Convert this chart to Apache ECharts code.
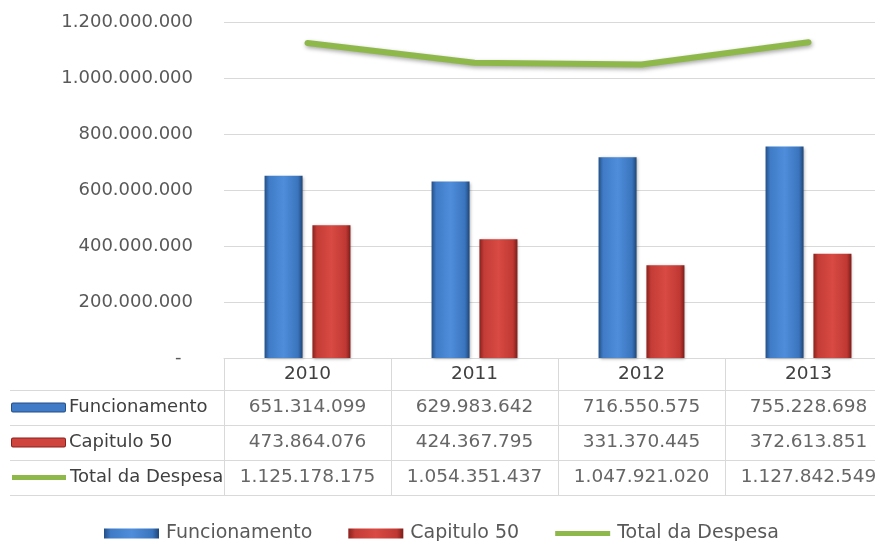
<!DOCTYPE html>
<html>
<head>
<meta charset="utf-8">
<script src="https://cdn.jsdelivr.net/npm/echarts@6/dist/echarts.min.js"></script>
<style>
html,body{margin:0;padding:0;background:#fff;overflow:hidden;}
#chart{width:892px;height:541px;}
</style>
</head>
<body>
<div id="chart"></div>
<script>
const categories = ['2010', '2011', '2012', '2013'];
const seriesNames = ['Funcionamento', 'Capitulo 50', 'Total da Despesa'];
const funcionamento = [651314099, 629983642, 716550575, 755228698];
const capitulo50 = [473864076, 424367795, 331370445, 372613851];
const totalDespesa = [1125178175, 1054351437, 1047921020, 1127842549];
const yMin = 0, yMax = 1200000000, yStep = 200000000;

function fmt(n) {
  return String(Math.round(n)).replace(/\B(?=(\d{3})+(?!\d))/g, '.');
}

const FONT = 'DejaVu Sans';
const allValues = [funcionamento, capitulo50, totalDespesa];
const tableData = [];
seriesNames.forEach(function (name, i) {
  categories.forEach(function (c, j) {
    tableData.push([c, name, allValues[i][j]]);
  });
});

const blueGrad = new echarts.graphic.LinearGradient(0, 0, 1, 0, [
  {offset: 0, color: '#244f86'}, {offset: 0.12, color: '#3f7bc6'},
  {offset: 0.5, color: '#4f8ddb'}, {offset: 0.88, color: '#3a74bd'},
  {offset: 1, color: '#1f4677'}]);
const redGrad = new echarts.graphic.LinearGradient(0, 0, 1, 0, [
  {offset: 0, color: '#8a211d'}, {offset: 0.12, color: '#c43c36'},
  {offset: 0.5, color: '#d84a43'}, {offset: 0.88, color: '#c03833'},
  {offset: 1, color: '#7c1d19'}]);
const green = '#8fb84a';
const gridColor = '#d9d9d9';

const chart = echarts.init(document.getElementById('chart'), null, {renderer: 'canvas'});
chart.setOption({
  backgroundColor: '#ffffff',
  animation: false,
  grid: [
    {left: 224, top: 22, right: 0, height: 336},
    {left: 224, top: 390, right: 0, height: 105}
  ],
  xAxis: [
    {
      type: 'category', gridIndex: 0, data: categories,
      axisLine: {lineStyle: {color: gridColor, width: 1}},
      axisTick: {show: true, length: 137, lineStyle: {color: gridColor}},
      axisLabel: {margin: 7, fontFamily: FONT, fontSize: 18.5, color: '#404040'}
    },
    {
      type: 'category', gridIndex: 1, data: categories, show: false
    }
  ],
  yAxis: [
    {
      type: 'value', gridIndex: 0, min: yMin, max: yMax, interval: yStep,
      axisLine: {show: false}, axisTick: {show: false},
      splitLine: {lineStyle: {color: gridColor, width: 1}},
      axisLabel: {
        margin: 31, fontFamily: FONT, fontSize: 18, color: '#595959',
        formatter: function (v) { return v === 0 ? '-  ' : fmt(v); }
      }
    },
    {
      type: 'category', gridIndex: 1, data: seriesNames, inverse: true,
      axisLine: {show: false},
      axisTick: {show: true, length: 214, lineStyle: {color: gridColor}},
      splitLine: {show: true, showMinLine: true, showMaxLine: true, lineStyle: {color: gridColor}},
      axisLabel: {
        align: 'left', margin: 212, fontFamily: FONT, fontSize: 18, color: '#404040',
        formatter: function (v, i) {
          const key = ['b', 'r', 'g'][i];
          return '{' + key + '|}{t|' + v + '}';
        },
        rich: {
          b: {width: 53, height: 8, backgroundColor: '#3f7bc6', borderColor: '#244f86', borderWidth: 1, borderRadius: 1},
          r: {width: 53, height: 8, backgroundColor: '#d0443e', borderColor: '#8a211d', borderWidth: 1, borderRadius: 1},
          g: {width: 54, height: 5, backgroundColor: green},
          t: {fontFamily: FONT, fontSize: 18, color: '#404040', padding: [0, 0, 0, 4]}
        }
      }
    }
  ],
  legend: {
    data: [
      {name: seriesNames[0], icon: 'rect'},
      {name: seriesNames[1], icon: 'rect'},
      {name: seriesNames[2], icon: 'path://M0,0 L55,0 L55,5 L0,5 Z', itemStyle: {color: green}}
    ],
    left: 99, top: 519,
    itemWidth: 55, itemHeight: 10, itemGap: 36,
    textStyle: {fontFamily: FONT, fontSize: 19, color: '#595959', padding: [0, 0, 0, 2]}
  },
  series: [
    {
      name: seriesNames[0], type: 'bar', xAxisIndex: 0, yAxisIndex: 0,
      data: funcionamento, barWidth: 38, barGap: '26%',
      itemStyle: {color: blueGrad, shadowBlur: 3, shadowColor: 'rgba(0,0,0,0.3)', shadowOffsetX: 1, shadowOffsetY: 1}
    },
    {
      name: seriesNames[1], type: 'bar', xAxisIndex: 0, yAxisIndex: 0,
      data: capitulo50, barWidth: 38, barGap: '26%',
      itemStyle: {color: redGrad, shadowBlur: 3, shadowColor: 'rgba(0,0,0,0.3)', shadowOffsetX: 1, shadowOffsetY: 1}
    },
    {
      name: seriesNames[2], type: 'line', xAxisIndex: 0, yAxisIndex: 0,
      data: totalDespesa, showSymbol: false, symbol: 'none', z: 5,
      itemStyle: {color: green},
      lineStyle: {color: green, width: 6, cap: 'round', join: 'round',
        shadowBlur: 4, shadowColor: 'rgba(0,0,0,0.35)', shadowOffsetX: 1, shadowOffsetY: 2}
    },
    {
      name: 'tabela', type: 'scatter', xAxisIndex: 1, yAxisIndex: 1,
      data: tableData, symbolSize: 1, itemStyle: {color: 'rgba(0,0,0,0)'},
      silent: true,
      label: {
        show: true, position: 'inside', fontFamily: FONT, fontSize: 18.5, color: '#404040',
        formatter: function (p) { return fmt(p.value[2]); }
      }
    }
  ]
});
</script>
</body>
</html>
